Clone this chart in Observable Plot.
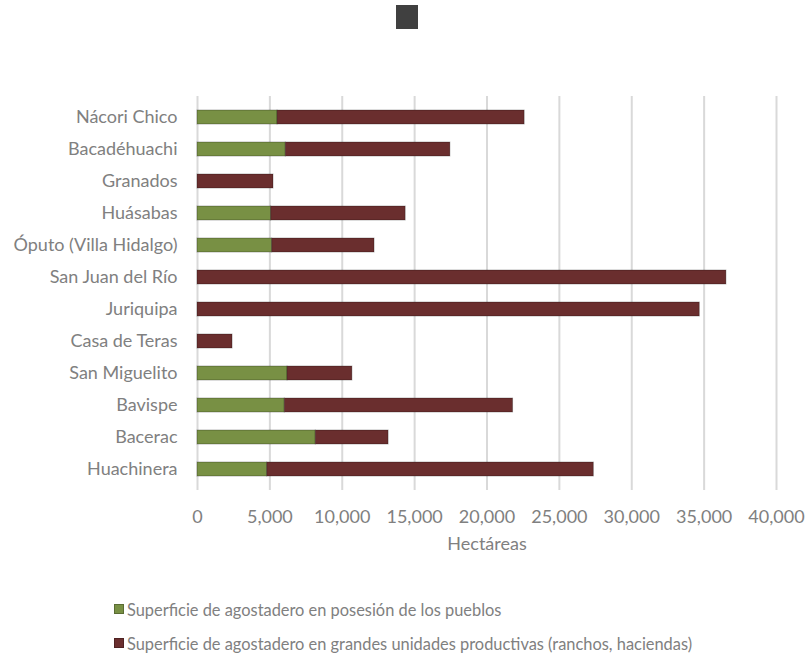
<!DOCTYPE html>
<html><head><meta charset="utf-8">
<script src="https://cdn.jsdelivr.net/npm/d3@7"></script>
<script src="https://cdn.jsdelivr.net/npm/@observablehq/plot@0.6"></script>
<style>
body{margin:0;background:#fff;font-family:Lato,"Open Sans",sans-serif;}
#title{height:40px;position:relative;}
#title span{position:absolute;left:396px;top:5px;width:22px;height:24px;background:#404040;}
#legend{padding-top:22px;padding-left:114px;color:#808080;font-size:16.4px;}
.row{height:34px;display:flex;align-items:center;}
.sw{width:10px;height:10px;margin-right:3px;box-sizing:border-box;border:1px solid rgba(0,0,0,0.25);}
</style>
</head><body>
<div id="title"><span></span></div>
<div id="chart"></div>
<div id="legend"></div>
<script>
const municipios = ["Nácori Chico","Bacadéhuachi","Granados","Huásabas","Óputo (Villa Hidalgo)","San Juan del Río","Juriquipa","Casa de Teras","San Miguelito","Bavispe","Bacerac","Huachinera"];
const series = ["Superficie de agostadero en posesión de los pueblos","Superficie de agostadero en grandes unidades productivas (ranchos, haciendas)"];
const pueblos = [5530, 6100, 0, 5090, 5160, 0, 0, 0, 6220, 6030, 8170, 4820];
const grandes = [17070, 11370, 5250, 9290, 7070, 36540, 34700, 2420, 4480, 15770, 5030, 22560];
const xTicks = [0,5000,10000,15000,20000,25000,30000,35000,40000];
const xLabel = "Hectáreas";
const colors = ["#789044","#6a2e2e"];

const data = [];
municipios.forEach((m,i)=>{
  data.push({municipio:m, serie:series[0], valor:pueblos[i]});
  data.push({municipio:m, serie:series[1], valor:grandes[i]});
});

const chart = Plot.plot({
  width: 805, height: 530,
  marginTop: 56, marginBottom: 80, marginLeft: 197, marginRight: 29,
  style: {fontFamily: "Lato, 'Open Sans', sans-serif", fontSize: "18px", color: "#808080", background: "#fff"},
  x: {domain:[0,40000], ticks: xTicks, tickFormat: d3.format(","), tickSize: 0, tickPadding: 20, label: null},
  y: {domain: municipios, paddingInner: 0.56, paddingOuter: 0.28, tickSize: 0, tickPadding: 20, label: null},
  color: {domain: series, range: colors},
  marks: [
    Plot.gridX(xTicks, {stroke: "#d9d9d9", strokeOpacity: 1, strokeWidth: 2}),
    Plot.barX(data, Plot.stackX({x: "valor", y: "municipio", fill: "serie", stroke: "rgba(0,0,0,0.28)", strokeWidth: 1})),
    Plot.text([xLabel], {frameAnchor: "bottom", dy: 59, fontSize: 18, fill: "#808080"})
  ]
});
document.getElementById("chart").appendChild(chart);

const lg = document.getElementById("legend");
series.forEach((s,i)=>{
  const r = document.createElement("div"); r.className = "row";
  const sw = document.createElement("span"); sw.className = "sw"; sw.style.background = colors[i];
  const t = document.createElement("span"); t.textContent = s;
  r.appendChild(sw); r.appendChild(t); lg.appendChild(r);
});
</script>
</body></html>
